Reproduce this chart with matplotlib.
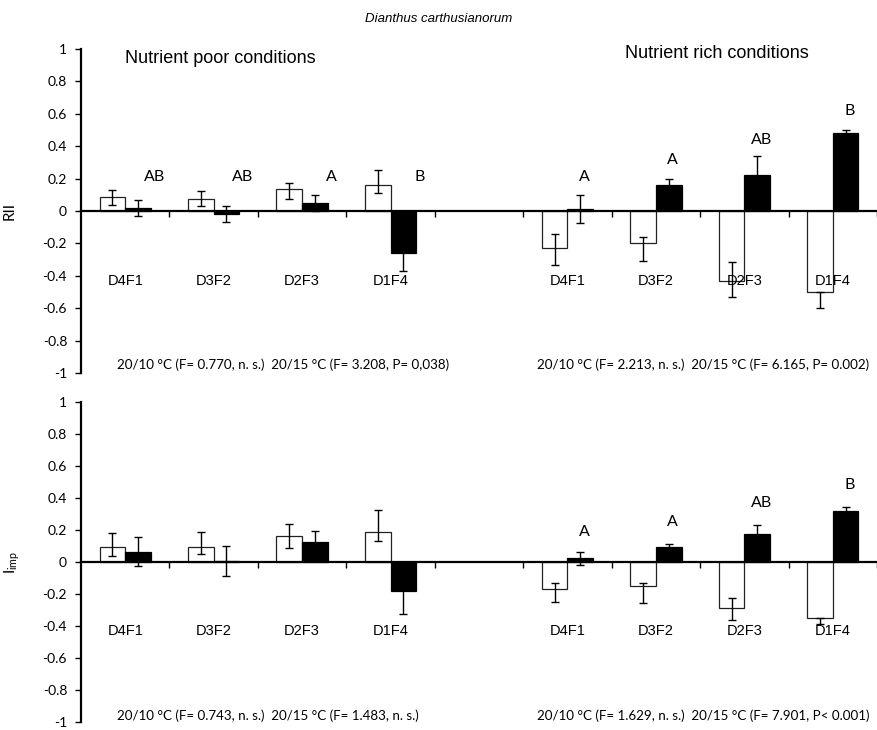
import matplotlib
matplotlib.use("Agg")
import matplotlib.pyplot as plt
import numpy as np

# --- data ---
categories = ["D4F1", "D3F2", "D2F3", "D1F4"]

# RII (white = 20/10 °C, black = 20/15 °C)
rii_poor_white = [0.084, 0.074, 0.136, 0.160]
rii_poor_white_lo = [0.047, 0.045, 0.060, 0.047]
rii_poor_white_hi = [0.046, 0.047, 0.039, 0.093]
rii_poor_black = [0.019, -0.019, 0.051, -0.259]
rii_poor_black_err = [0.050, 0.048, 0.048, 0.109]

rii_rich_white = [-0.226, -0.198, -0.434, -0.502]
rii_rich_white_lo = [0.109, 0.109, 0.099, 0.099]
rii_rich_white_hi = [0.084, 0.040, 0.117, 0.0]
rii_rich_black = [0.012, 0.160, 0.224, 0.481]
rii_rich_black_err = [0.085, 0.040, 0.116, 0.021]

# I_imp
imp_poor_white = [0.096, 0.096, 0.160, 0.190]
imp_poor_white_lo = [0.056, 0.048, 0.073, 0.057]
imp_poor_white_hi = [0.087, 0.094, 0.077, 0.133]
imp_poor_black = [0.065, 0.006, 0.123, -0.181]
imp_poor_black_err = [0.090, 0.094, 0.073, 0.144]

imp_rich_white = [-0.171, -0.152, -0.290, -0.352]
imp_rich_white_lo = [0.077, 0.104, 0.072, 0.038]
imp_rich_white_hi = [0.042, 0.023, 0.067, 0.0]
imp_rich_black = [0.023, 0.094, 0.173, 0.321]
imp_rich_black_err = [0.040, 0.021, 0.058, 0.023]

# significance letters and their heights
rii_letters_poor = ["AB", "AB", "A", "B"]
rii_letters_poor_y = [0.207, 0.207, 0.207, 0.207]
rii_letters_rich = ["A", "A", "AB", "B"]
rii_letters_rich_y = [0.21, 0.315, 0.44, 0.62]
imp_letters_poor = []
imp_letters_poor_y = []
imp_letters_rich = ["A", "A", "AB", "B"]
imp_letters_rich_y = [0.19, 0.25, 0.37, 0.48]

rii_stats_poor = ["20/10 °C (F= 0.770, n. s.)", "20/15 °C (F= 3.208, P= 0,038)"]
rii_stats_rich = ["20/10 °C (F= 2.213, n. s.)", "20/15 °C (F= 6.165, P= 0.002)"]
imp_stats_poor = ["20/10 °C (F= 0.743, n. s.)", "20/15 °C (F= 1.483, n. s.)"]
imp_stats_rich = ["20/10 °C (F= 1.629, n. s.)", "20/15 °C (F= 7.901, P< 0.001)"]

CAL = "Lato"            # stand-in for Calibri
ARIAL = "Liberation Sans"
W = 0.29                # bar width in category units


def draw_group(ax, start, white, w_lo, w_hi, black, b_err):
    centers = start + np.arange(len(categories)) + 0.5
    xw = centers - W / 2
    xb = centers + W / 2
    ax.bar(xw, white, width=W, color="white", edgecolor="#222222", linewidth=0.9, zorder=2)
    ax.bar(xb, black, width=W, color="black", edgecolor="black", linewidth=0.9, zorder=2)
    ax.errorbar(xw, white, yerr=[w_lo, w_hi], fmt="none", ecolor="black",
                elinewidth=1, capsize=3, capthick=1, zorder=3)
    ax.errorbar(xb, black, yerr=[b_err, b_err], fmt="none", ecolor="black",
                elinewidth=1, capsize=3, capthick=1, zorder=3)
    for c, name in zip(centers, categories):
        ax.text(c, -0.43, name, ha="center", va="center", fontsize=10.5,
                family=ARIAL, zorder=4)
    return centers


def draw_panel(ax, poor, rich, letters_poor, lp_y, letters_rich, lr_y,
               stats_poor, stats_rich, stats_y):
    cp = draw_group(ax, 0, *poor)
    cr = draw_group(ax, 5, *rich)
    for c, t, y in zip(cp, letters_poor, lp_y):
        ax.text(c + 0.33, y, t, ha="center", va="center", fontsize=11.5, family=CAL)
    for c, t, y in zip(cr, letters_rich, lr_y):
        ax.text(c + 0.19, y, t, ha="center", va="center", fontsize=11.5, family=CAL)
    ax.text(0.41, stats_y, "  ".join(stats_poor), ha="left", va="center",
            fontsize=9.6, family=CAL)
    ax.text(5.16, stats_y, "  ".join(stats_rich), ha="left", va="center",
            fontsize=9.6, family=CAL)

    ax.set_xlim(0, 9)
    ax.set_ylim(-1, 1)
    ax.spines["top"].set_visible(False)
    ax.spines["right"].set_visible(False)
    ax.spines["bottom"].set_position(("data", 0))
    ax.spines["bottom"].set_linewidth(1.6)
    ax.spines["left"].set_linewidth(1.6)
    ax.set_xticks(np.arange(1, 10))
    ax.set_xticklabels([])
    ax.tick_params(axis="x", direction="out", length=4, width=1)
    yt = np.round(np.arange(-1, 1.01, 0.2), 1)
    ax.set_yticks(yt)
    ax.set_yticklabels(["0" if v == 0 else f"{v:g}" for v in yt],
                       fontsize=10, family=CAL)
    ax.tick_params(axis="y", direction="out", length=4, width=1, pad=6)


fig = plt.figure(figsize=(8.77, 7.30), dpi=100)
ax1 = fig.add_axes([81 / 877, 1 - 373 / 730, 796 / 877, 324 / 730])
ax2 = fig.add_axes([81 / 877, 1 - 722 / 730, 796 / 877, 320 / 730])

draw_panel(ax1,
           (rii_poor_white, rii_poor_white_lo, rii_poor_white_hi, rii_poor_black, rii_poor_black_err),
           (rii_rich_white, rii_rich_white_lo, rii_rich_white_hi, rii_rich_black, rii_rich_black_err),
           rii_letters_poor, rii_letters_poor_y, rii_letters_rich, rii_letters_rich_y,
           rii_stats_poor, rii_stats_rich, -0.95)
draw_panel(ax2,
           (imp_poor_white, imp_poor_white_lo, imp_poor_white_hi, imp_poor_black, imp_poor_black_err),
           (imp_rich_white, imp_rich_white_lo, imp_rich_white_hi, imp_rich_black, imp_rich_black_err),
           imp_letters_poor, imp_letters_poor_y, imp_letters_rich, imp_letters_rich_y,
           imp_stats_poor, imp_stats_rich, -0.96)

ax1.text(0.5, 0.944, "Nutrient poor conditions", ha="left", va="center",
         fontsize=13, family=ARIAL)
ax1.text(6.15, 0.975, "Nutrient rich conditions", ha="left", va="center",
         fontsize=13, family=ARIAL)

fig.text(439 / 877, 1 - 19 / 730, "Dianthus carthusianorum", ha="center", va="center",
         fontsize=9.5, style="italic", family=ARIAL)
fig.text(10 / 877, 1 - 211 / 730, "RII", ha="center", va="center", rotation=90,
         fontsize=11, family=CAL)
fig.text(12 / 877, 1 - 562 / 730, r"$\mathregular{I_{imp}}$", ha="center", va="center",
         rotation=90, fontsize=11, family=CAL)

fig.savefig("out.png", dpi=100)
